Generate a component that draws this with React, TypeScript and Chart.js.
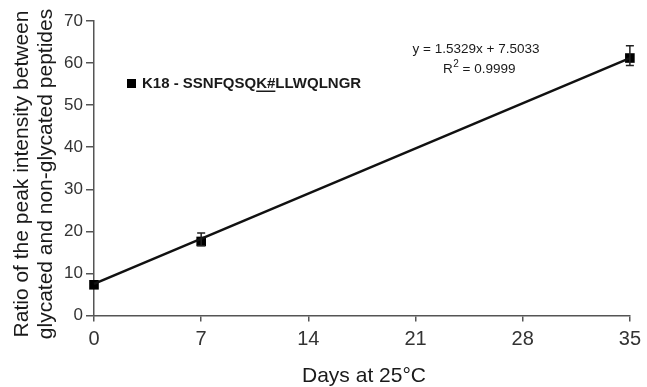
import React, { useEffect, useRef } from "react";
import { Chart, registerables } from "chart.js";

Chart.register(...registerables);

const days = [0, 7, 35];
const ratios = [7.3, 17.6, 61.2];
const errUp = [0, 2.0, 2.9];
const errDown = [0, 1.0, 1.8];
const trendDays = [0, 35];
const trendValues = [7.5033, 61.1548];
const xTicks = [0, 7, 14, 21, 28, 35];
const yTicks = [0, 10, 20, 30, 40, 50, 60, 70];
const yTitle = ["Ratio of the peak intensity between", "glycated and non-glycated peptides"];
const xTitle = "Days at 25°C";
const legendLabel = "K18 - SSNFQSQK#LLWQLNGR";
const equation = "y = 1.5329x + 7.5033";
const r2Value = " = 0.9999";

const FONT = "Arial, 'Liberation Sans', sans-serif";
const TEXT = "#1a1a1a";

const overlay = {
  id: "overlay",
  afterDatasetsDraw(chart: any) {
    const ctx = chart.ctx;
    const xs = chart.scales.x;
    const ys = chart.scales.y;
    ctx.save();
    ctx.strokeStyle = "#222";
    ctx.lineWidth = 1.5;
    days.forEach((d, i) => {
      if (!errUp[i] && !errDown[i]) return;
      const px = xs.getPixelForValue(d);
      const top = ys.getPixelForValue(ratios[i] + errUp[i]);
      const bot = ys.getPixelForValue(ratios[i] - errDown[i]);
      ctx.beginPath();
      ctx.moveTo(px, top);
      ctx.lineTo(px, bot);
      ctx.moveTo(px - 4, top);
      ctx.lineTo(px + 4, top);
      ctx.moveTo(px - 4, bot);
      ctx.lineTo(px + 4, bot);
      ctx.stroke();
    });
    ctx.restore();
  },
  afterDraw(chart: any) {
    const ctx = chart.ctx;
    ctx.save();
    ctx.fillStyle = TEXT;
    // y title
    ctx.font = `21px ${FONT}`;
    ctx.textAlign = "center";
    ctx.textBaseline = "alphabetic";
    const yc = 174;
    [27.5, 52].forEach((bx, i) => {
      ctx.save();
      ctx.translate(bx, yc);
      ctx.rotate(-Math.PI / 2);
      ctx.fillText(yTitle[i], 0, 0);
      ctx.restore();
    });
    // x title
    ctx.fillText(xTitle, 364, 382);
    // legend
    ctx.fillStyle = "#000";
    ctx.fillRect(127, 79, 9, 9);
    ctx.fillStyle = TEXT;
    ctx.font = `bold 15px ${FONT}`;
    ctx.textAlign = "left";
    const lx = 142;
    const lb = 88;
    ctx.fillText(legendLabel, lx, lb);
    const kIdx = legendLabel.indexOf("K#");
    const pre = ctx.measureText(legendLabel.slice(0, kIdx)).width;
    const kw = ctx.measureText("K#").width;
    ctx.fillRect(lx + pre, lb + 2.5, kw, 1.5);
    // equation
    ctx.font = `13.5px ${FONT}`;
    ctx.textAlign = "center";
    ctx.fillText(equation, 476, 52.5);
    ctx.textAlign = "left";
    let rx = 443;
    ctx.fillText("R", rx, 73);
    rx += ctx.measureText("R").width;
    ctx.font = `10px ${FONT}`;
    ctx.fillText("2", rx + 0.5, 67);
    rx += ctx.measureText("2").width + 0.5;
    ctx.font = `13.5px ${FONT}`;
    ctx.fillText(r2Value, rx, 73);
    ctx.restore();
  },
};

export default function App() {
  const ref = useRef<HTMLCanvasElement>(null);
  useEffect(() => {
    document.body.style.margin = "0";
    const chart = new Chart(ref.current!, {
      type: "scatter",
      data: {
        datasets: [
          {
            data: trendDays.map((d, i) => ({ x: d, y: trendValues[i] })),
            showLine: true,
            borderColor: "#111",
            borderWidth: 2.5,
            pointRadius: 0,
            clip: false,
          },
          {
            data: days.map((d, i) => ({ x: d, y: ratios[i] })),
            showLine: false,
            borderColor: "#000",
            backgroundColor: "#000",
            pointStyle: "rect",
            pointRadius: 6.8,
            pointBorderWidth: 0,
            clip: false,
          },
        ],
      },
      options: {
        animation: false,
        responsive: false,
        events: [],
        layout: { padding: { top: 21, right: 10, left: 0, bottom: 0 } },
        plugins: { legend: { display: false }, tooltip: { enabled: false } },
        scales: {
          x: {
            type: "linear",
            min: 0,
            max: 35,
            afterFit: (s: any) => {
              s.height = 71.5;
            },
            afterBuildTicks: (s: any) => {
              s.ticks = xTicks.map((v) => ({ value: v }));
            },
            grid: { drawOnChartArea: false, drawTicks: true, tickLength: 6, color: "#555", lineWidth: 1.5 },
            border: { display: true, color: "#555", width: 1.5 },
            ticks: { color: "#333", font: { size: 20, family: FONT }, padding: 6, maxRotation: 0 },
          },
          y: {
            type: "linear",
            min: 0,
            max: 70,
            afterFit: (s: any) => {
              s.width = 94;
            },
            afterBuildTicks: (s: any) => {
              s.ticks = yTicks.map((v) => ({ value: v }));
            },
            grid: { drawOnChartArea: false, drawTicks: true, tickLength: 8, color: "#555", lineWidth: 1.5 },
            border: { display: true, color: "#555", width: 1.5 },
            ticks: { color: "#333", font: { size: 17, family: FONT }, padding: 3 },
          },
        },
      },
      plugins: [overlay],
    });
    return () => chart.destroy();
  }, []);
  return (
    <div style={{ width: 647, height: 387, background: "#fff" }}>
      <canvas ref={ref} width={647} height={387} />
    </div>
  );
}
